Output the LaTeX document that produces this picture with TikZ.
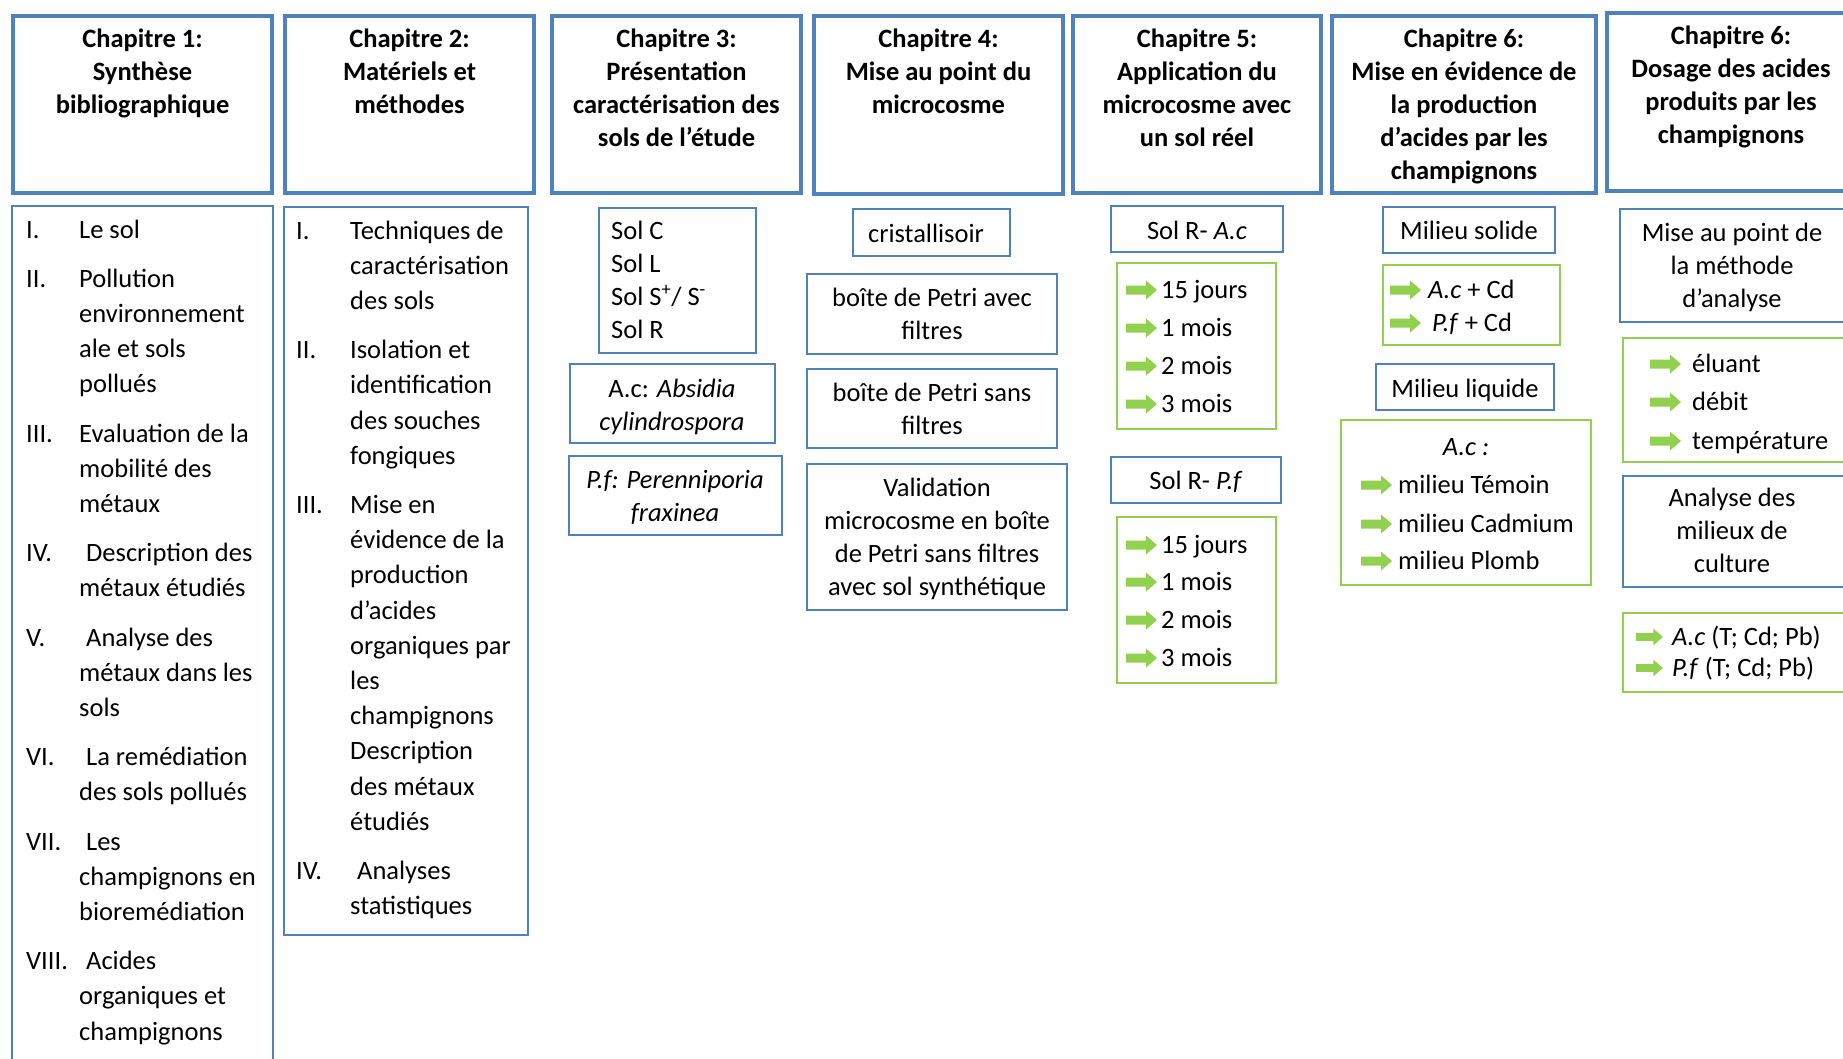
\documentclass[tikz,border=0pt]{standalone}
\usepackage{fontspec}
\setmainfont{Carlito}
\definecolor{boxblue}{RGB}{79,129,189}
\definecolor{arrowgreen}{RGB}{146,208,80}
\tikzset{
  chapbox/.style={draw=boxblue, line width=4pt},
  bluebox/.style={draw=boxblue, line width=1.6pt},
  greenbox/.style={draw=arrowgreen, line width=1.6pt},
  chaptxt/.style={font=\fontsize{26.5}{33}\selectfont\bfseries, text width=320pt, align=flush center, inner sep=0pt, anchor=base},
  boxtxt/.style={font=\fontsize{26.5}{33}\selectfont, text width=320pt, align=flush center, inner sep=0pt, anchor=base},
  itemtxt/.style={font=\fontsize{26.5}{33}\selectfont, inner sep=0pt, anchor=base west},
  listtxt/.style={font=\fontsize{26.5}{35.2}\selectfont, inner sep=0pt, anchor=base west},
  greenarrow/.pic={\fill[arrowgreen] (0,-4.5) -- (20,-4.5) -- (20,-9.5) -- (31,0) -- (20,9.5) -- (20,4.5) -- (0,4.5) -- cycle;}
}
\begin{document}
\begin{tikzpicture}[x=1pt,y=-1pt]
\useasboundingbox (0,0) rectangle (1843,1058);
\clip (0,0) rectangle (1843,1058);

% chapter headers
\draw[chapbox] (13,16) rectangle (272,193);
\draw[chapbox] (285,16) rectangle (534,193);
\draw[chapbox] (552,16) rectangle (801,193);
\draw[chapbox] (814,16) rectangle (1063,194);
\draw[chapbox] (1073,16) rectangle (1321,193);
\draw[chapbox] (1332,16) rectangle (1596,193);
\draw[chapbox] (1607,13) rectangle (1870,191);
\node[chaptxt] (ch1) at (142.5,47.5) {Chapitre 1:\\Synthèse\\bibliographique};
\node[chaptxt] (ch2) at (409.5,47.5) {Chapitre 2:\\Matériels et\\méthodes};
\node[chaptxt] (ch3) at (676.5,47.5) {Chapitre 3:\\Présentation\\caractérisation des\\sols de l’étude};
\node[chaptxt] (ch4) at (938.5,47.5) {Chapitre 4:\\Mise au point du\\microcosme};
\node[chaptxt] (ch5) at (1197,47.5) {Chapitre 5:\\Application du\\microcosme avec\\un sol réel};
\node[chaptxt] (ch6) at (1464,47.5) {Chapitre 6:\\Mise en évidence de\\la production\\d’acides par les\\champignons};
\node[chaptxt] (ch7) at (1731,44) {Chapitre 6:\\Dosage des acides\\produits par les\\champignons};

% chapitre 1 et 2
\draw[bluebox] (12,206) rectangle (273,1080);
\node[listtxt] (plan1) at (26,238) {\begin{tabular}[t]{@{}p{53pt}@{}l@{}}
I. & Le sol\\[14pt]
II. & Pollution\\ & environnement\\ & ale et sols\\ & pollués\\[14pt]
III. & Evaluation de la\\ & mobilité des\\ & métaux\\[14pt]
IV. & \hspace{7pt}Description des\\ & métaux étudiés\\[14pt]
V. & \hspace{7pt}Analyse des\\ & métaux dans les\\ & sols\\[14pt]
VI. & \hspace{7pt}La remédiation\\ & des sols pollués\\[14pt]
VII. & \hspace{7pt}Les\\ & champignons en\\ & bioremédiation\\[14pt]
VIII. & \hspace{7pt}Acides\\ & organiques et\\ & champignons
\end{tabular}};
\draw[bluebox] (284,207) rectangle (528,935);
\node[listtxt] (plan2) at (296,239) {\begin{tabular}[t]{@{}p{54pt}@{}l@{}}
I. & Techniques de\\ & caractérisation\\ & des sols\\[14pt]
II. & Isolation et\\ & identification\\ & des souches\\ & fongiques\\[14pt]
III. & Mise en\\ & évidence de la\\ & production\\ & d’acides\\ & organiques par\\ & les\\ & champignons\\ & Description\\ & des métaux\\ & étudiés\\[14pt]
IV. & \hspace{7pt}Analyses\\ & statistiques
\end{tabular}};

% chapitre 3
\draw[bluebox] (599,208) rectangle (756,353);
\node[itemtxt, text width=140pt, align=flush left] (sols) at (611,239) {Sol C\\Sol L\\Sol S\textsuperscript{+}/ S\textsuperscript{-}\\Sol R};
\draw[bluebox] (570,364) rectangle (775,443);
\node[boxtxt] (abs) at (672,397) {A.c: \textit{Absidia}\\\textit{cylindrospora}};
\draw[bluebox] (569,456) rectangle (782,535);
\node[boxtxt] (per) at (675,488) {\textit{P.f: Perenniporia}\\\textit{fraxinea}};

% chapitre 4
\draw[bluebox] (853,209) rectangle (1010,256);
\node[boxtxt] (cris) at (926,242) {cristallisoir};
\draw[bluebox] (807,274) rectangle (1057,354);
\node[boxtxt] (avec) at (932,306) {boîte de Petri avec\\filtres};
\draw[bluebox] (807,369) rectangle (1057,448);
\node[boxtxt] (sans) at (932,401) {boîte de Petri sans\\filtres};
\draw[bluebox] (807,464) rectangle (1067,610);
\node[boxtxt] (valid) at (937,496) {Validation\\microcosme en boîte\\de Petri sans filtres\\avec sol synthétique};

% chapitre 5
\draw[bluebox] (1111,206) rectangle (1283,252);
\node[boxtxt] (solac) at (1197,239) {Sol R- \textit{A.c}};
\draw[greenbox] (1117,263) rectangle (1276,429);
\foreach \yb/\lbl [count=\i] in {298/15 jours, 336/1 mois, 374/2 mois, 412/3 mois}{
  \pic at (1126,\yb-8) {greenarrow};
  \node[itemtxt] (dac\i) at (1161,\yb) {\lbl};
}
\draw[bluebox] (1111,457) rectangle (1281,503);
\node[boxtxt] (solpf) at (1196,489) {Sol R- \textit{P.f}};
\draw[greenbox] (1117,517) rectangle (1276,683);
\foreach \yb/\lbl [count=\i] in {553/15 jours, 590/1 mois, 628/2 mois, 666/3 mois}{
  \pic at (1126,\yb-8) {greenarrow};
  \node[itemtxt] (dpf\i) at (1161,\yb) {\lbl};
}

% chapitre 6
\draw[bluebox] (1383,207) rectangle (1555,253);
\node[boxtxt] (solide) at (1469,239) {Milieu solide};
\draw[greenbox] (1383,265) rectangle (1560,345);
\foreach \yb/\xt/\lbl [count=\i] in {298/1428/{\textit{A.c} + Cd}, 331/1432/{\textit{P.f} + Cd}}{
  \pic at (1390,\yb-8) {greenarrow};
  \node[itemtxt] (cd\i) at (\xt,\yb) {\lbl};
}
\draw[bluebox] (1376,364) rectangle (1554,410);
\node[boxtxt] (liquide) at (1465,397) {Milieu liquide};
\draw[greenbox] (1341,420) rectangle (1591,585);
\node[boxtxt] (acliq) at (1466,455) {\textit{A.c :}};
\foreach \yb/\lbl [count=\i] in {493/milieu Témoin, 532/milieu Cadmium, 569/milieu Plomb}{
  \pic at (1361,\yb-8) {greenarrow};
  \node[itemtxt] (mil\i) at (1398,\yb) {\lbl};
}

% chapitre 6 (dosage)
\draw[bluebox] (1620,209) rectangle (1870,322);
\node[boxtxt] (methode) at (1732,241) {Mise au point de\\la méthode\\d’analyse};
\draw[greenbox] (1623,338) rectangle (1870,462);
\foreach \yb/\lbl [count=\i] in {372/éluant, 410/débit, 449/température}{
  \pic at (1650,\yb-8) {greenarrow};
  \node[itemtxt] (par\i) at (1692,\yb) {\lbl};
}
\draw[bluebox] (1623,476) rectangle (1870,587);
\node[boxtxt] (culture) at (1732,506) {Analyse des\\milieux de\\culture};
\draw[greenbox] (1623,613) rectangle (1870,692);
\foreach \yb/\lbl [count=\i] in {645/{\textit{A.c} (T; Cd; Pb)}, 676/{\textit{P.f} (T; Cd; Pb)}}{
  \pic[scale=0.87] at (1636,\yb-8) {greenarrow};
  \node[itemtxt] (dos\i) at (1672,\yb) {\lbl};
}
\end{tikzpicture}
\end{document}
